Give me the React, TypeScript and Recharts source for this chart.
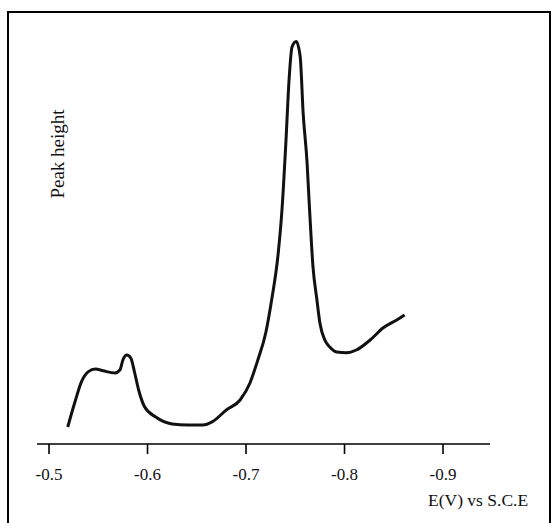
import { LineChart, Line, XAxis, YAxis } from "recharts";

// potential (V vs S.C.E) and peak height
const potential = [
  -0.519, -0.526, -0.533, -0.54, -0.547, -0.555, -0.567, -0.572, -0.575, -0.579,
  -0.583, -0.587, -0.591, -0.597, -0.608, -0.625, -0.641, -0.656, -0.666, -0.68,
  -0.694, -0.704, -0.712, -0.72, -0.726, -0.7325, -0.7365, -0.7406, -0.7437, -0.7467,
  -0.751, -0.755, -0.758, -0.762, -0.764, -0.768, -0.772, -0.775, -0.78,
  -0.785, -0.792, -0.802, -0.812, -0.826, -0.839, -0.853, -0.861,
];
const peakHeight = [
  4.25, 10.25, 15.6, 18.1, 18.75, 18.3, 17.75, 18.5, 21, 22.25,
  21.5, 17.75, 13.5, 9.3, 6.8, 5, 4.75, 4.75, 5.6, 8.5,
  11, 15.25, 21, 27.75, 36, 47.25, 58.5, 76, 91, 99.25,
  100.6, 96.8, 82.75, 70.25, 61, 44.3, 36, 30.25, 26,
  24.25, 23, 22.8, 23.5, 26, 29, 31, 32.25,
];
const xTicks = [-0.5, -0.6, -0.7, -0.8, -0.9];

const data = potential.map((v, i) => ({ v, h: peakHeight[i] }));

const serif = "'Liberation Serif', 'Times New Roman', serif";

export default function App() {
  return (
    <div>
      <div
        style={{
          position: "absolute",
          left: 7,
          top: 11,
          width: 544,
          height: 512,
          border: "2px solid #000",
          borderBottom: "none",
          boxSizing: "border-box",
        }}
      />
      <div style={{ position: "absolute", left: 0, top: 0 }}>
        <LineChart
          width={557}
          height={523}
          data={data}
          margin={{ top: 24, right: 67, left: 37, bottom: 49 }}
        >
          <XAxis
            type="number"
            dataKey="v"
            domain={[-0.9477, -0.4878]}
            reversed
            allowDataOverflow
            ticks={xTicks}
            tickFormatter={(v) => v.toFixed(1)}
            height={30}
            axisLine={{ stroke: "#000", strokeWidth: 1.6 }}
            tickLine={{ stroke: "#000", strokeWidth: 1.6 }}
            tickSize={10}
            tickMargin={14}
            tick={{ fill: "#111", fontSize: 17, fontFamily: serif }}
          />
          <YAxis type="number" domain={[0, 105]} hide width={0} />
          <Line
            type="monotone"
            dataKey="h"
            stroke="#111"
            strokeWidth={3}
            dot={false}
            isAnimationActive={false}
          />
        </LineChart>
      </div>
      <div
        style={{
          position: "absolute",
          left: 57,
          top: 154,
          transform: "translate(-50%, -50%) rotate(-90deg)",
          whiteSpace: "nowrap",
          fontFamily: serif,
          fontSize: 19,
          lineHeight: 1,
          color: "#111",
        }}
      >
        Peak height
      </div>
      <div
        style={{
          position: "absolute",
          left: 428,
          top: 492,
          whiteSpace: "nowrap",
          fontFamily: serif,
          fontSize: 17.5,
          lineHeight: 1,
          color: "#111",
        }}
      >
        E(V) vs S.C.E
      </div>
    </div>
  );
}
